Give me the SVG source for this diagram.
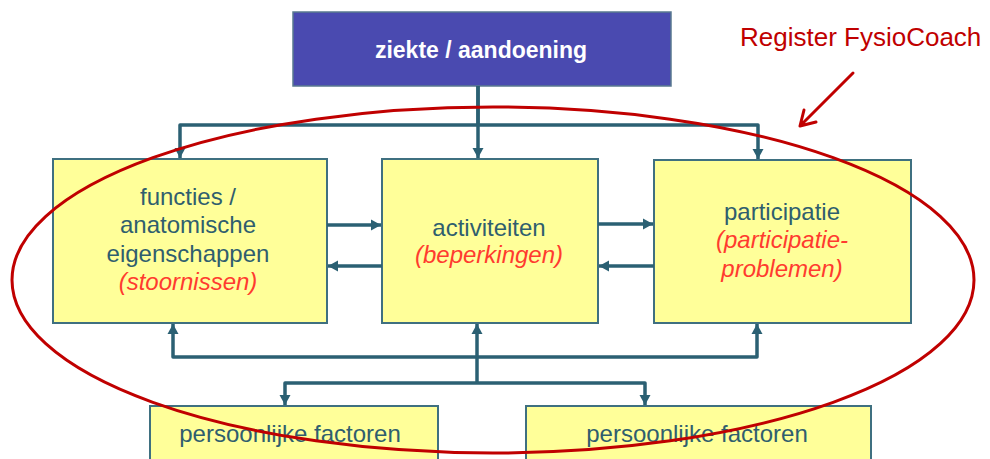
<svg xmlns="http://www.w3.org/2000/svg" width="990" height="459" viewBox="0 0 990 459">
<defs>
<marker id="ah" markerUnits="userSpaceOnUse" markerWidth="12" markerHeight="12" refX="10" refY="6" orient="auto">
<path d="M0,0.5 L10,6 L0,11.5 Z" fill="#2B6073"/>
</marker>
<style>
.box{fill:#FFFF99;stroke:#3F7080;stroke-width:2}
.t{font-family:"Liberation Sans",Arial,sans-serif;font-size:24px;fill:#2F5E6E;text-anchor:middle}
.r{font-style:italic;fill:#FF3B2F}
.c{fill:none;stroke:#2B6073;stroke-width:3.5;stroke-linejoin:round}
.a{marker-end:url(#ah)}
</style>
</defs>
<rect width="990" height="459" fill="#FFFFFF"/>
<g id="ziekte">
<rect x="293" y="12" width="378" height="74" fill="#4A4AB0" stroke="#5A7A90" stroke-width="1.5"/>
<text x="481" y="58" font-family="Liberation Sans,Arial,sans-serif" font-size="23" font-weight="bold" fill="#FFFFFF" text-anchor="middle">ziekte / aandoening</text>
</g>
<g id="functies">
<rect class="box" x="53" y="159" width="274" height="164"/>
<text class="t" x="188" y="205">functies /</text>
<text class="t" x="188" y="233">anatomische</text>
<text class="t" x="188" y="262">eigenschappen</text>
<text class="t r" x="188" y="290">(stoornissen)</text>
</g>
<g id="activiteiten">
<rect class="box" x="382" y="159" width="216" height="164"/>
<text class="t" x="489" y="236">activiteiten</text>
<text class="t r" x="489" y="263">(beperkingen)</text>
</g>
<g id="participatie">
<rect class="box" x="654" y="160" width="257" height="163"/>
<text class="t" x="782" y="220">participatie</text>
<text class="t r" x="782" y="248">(participatie-</text>
<text class="t r" x="782" y="277">problemen)</text>
</g>
<g id="persoonlijk1">
<rect class="box" x="150" y="406" width="288" height="65"/>
<text class="t" x="290" y="442">persoonlijke factoren</text>
</g>
<g id="persoonlijk2">
<rect class="box" x="526" y="406" width="345" height="65"/>
<text class="t" x="697" y="442">persoonlijke factoren</text>
</g>
<g id="connectors">
<path class="c" d="M478,86 V125"/>
<path class="c a" d="M478,86 V158"/>
<path class="c a" d="M478,125 H180 V158"/>
<path class="c a" d="M478,125 H758 V159"/>
<path class="c a" d="M327,225 H381"/>
<path class="c a" d="M382,266 H328"/>
<path class="c a" d="M598,224 H653"/>
<path class="c a" d="M654,266 H599"/>
<path class="c a" d="M477,383 V324"/>
<path class="c a" d="M477,357 H173 V324"/>
<path class="c a" d="M477,357 H757 V324"/>
<path class="c a" d="M477,383 H285 V405"/>
<path class="c a" d="M477,383 H645 V405"/>
</g>
<g id="register">
<ellipse cx="493" cy="280" rx="481" ry="173" fill="none" stroke="#C00000" stroke-width="3"/>
<text x="740" y="46" font-family="Liberation Sans,Arial,sans-serif" font-size="26" fill="#C00000">Register FysioCoach</text>
<path d="M853,73 L800,126 M800,126 L804,110 M800,126 L816,122" fill="none" stroke="#C00000" stroke-width="3" stroke-linecap="round" stroke-linejoin="round"/>
</g>
</svg>
